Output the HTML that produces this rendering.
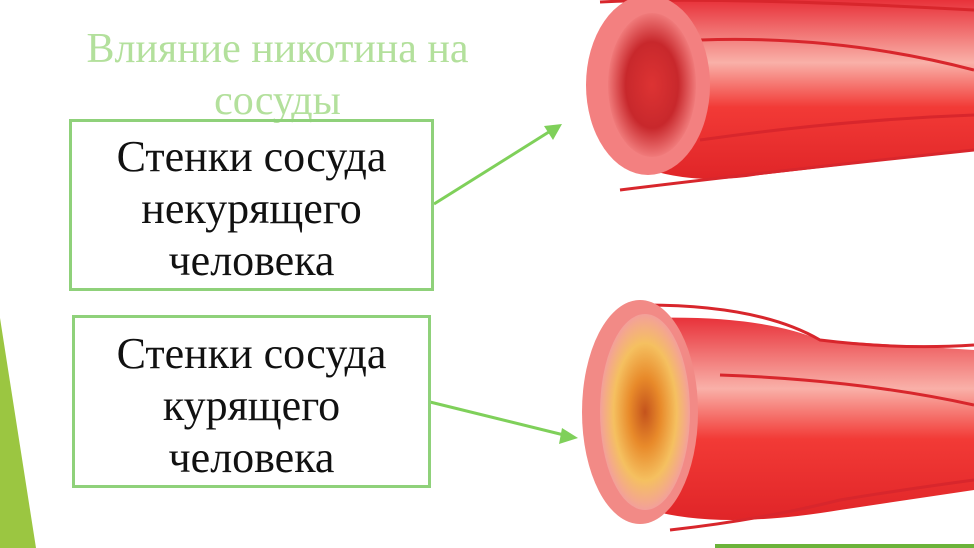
<!DOCTYPE html>
<html><head><meta charset="utf-8"><style>
body{margin:0;width:974px;height:548px;overflow:hidden;background:#fff;font-family:"Liberation Serif",serif}
.t{position:absolute;color:#b3e09c;font-size:42px;text-align:center;line-height:52px;left:40px;width:475px;top:23px;white-space:nowrap}
.b{position:absolute;border:3px solid #8fd17a;box-sizing:border-box;font-size:44px;line-height:52px;text-align:center;color:#111;display:flex;align-items:center;justify-content:center;white-space:nowrap;padding-top:8px}
</style></head><body>
<svg width="974" height="548" style="position:absolute;left:0;top:0">
<defs>
<linearGradient id="g1" x1="0" y1="0" x2="0" y2="1"><stop offset="0" stop-color="#e8323a"/><stop offset=".35" stop-color="#f9b0a8"/><stop offset=".6" stop-color="#f23a36"/><stop offset="1" stop-color="#e02528"/></linearGradient>
<radialGradient id="o1"><stop offset="0" stop-color="#d33"/><stop offset=".6" stop-color="#c8282c"/><stop offset="1" stop-color="#f07a7a"/></radialGradient>
<radialGradient id="o2"><stop offset="0" stop-color="#c4531c"/><stop offset=".35" stop-color="#e88a2a"/><stop offset=".7" stop-color="#f5c060"/><stop offset="1" stop-color="#f3a09a"/></radialGradient>
</defs>
<polygon points="0,318 0,548 36,548" fill="#9bc641"/>
<line x1="715" y1="546" x2="974" y2="546" stroke="#6bb33a" stroke-width="4"/>
<path d="M650,0 L974,0 L974,150 L760,175 Q700,185 650,170 Z" fill="url(#g1)"/>
<path d="M600,2 Q720,-4 974,10 M620,190 Q740,175 974,150 M700,40 Q840,35 974,70 M700,140 Q840,120 974,115" stroke="#d8262c" stroke-width="3" fill="none"/>
<ellipse cx="648" cy="85" rx="62" ry="90" fill="#f38080"/>
<ellipse cx="652" cy="85" rx="44" ry="72" fill="url(#o1)"/>
<path d="M650,318 Q760,315 820,340 L974,350 L974,490 L840,510 Q720,530 650,510 Z" fill="url(#g1)"/>
<path d="M645,305 Q760,305 820,340 Q900,350 974,345 M670,530 Q760,520 840,500 Q900,490 974,480 M720,375 Q860,380 974,405" stroke="#d8262c" stroke-width="3" fill="none"/>
<ellipse cx="640" cy="412" rx="58" ry="112" fill="#f28a86"/>
<ellipse cx="645" cy="412" rx="45" ry="98" fill="url(#o2)"/>
<line x1="434" y1="204" x2="552" y2="130" stroke="#7fd05a" stroke-width="3"/>
<polygon points="562,124 544,126 553,140" fill="#7fd05a"/>
<line x1="430" y1="402" x2="568" y2="436" stroke="#7fd05a" stroke-width="3"/>
<polygon points="578,438 562,428 559,444" fill="#7fd05a"/>
</svg>
<div class="t">Влияние никотина на<br>сосуды</div>
<div class="b" style="left:69px;top:119px;width:365px;height:172px">Стенки сосуда<br>некурящего<br>человека</div>
<div class="b" style="left:72px;top:315px;width:359px;height:173px">Стенки сосуда<br>курящего<br>человека</div>
</body></html>
